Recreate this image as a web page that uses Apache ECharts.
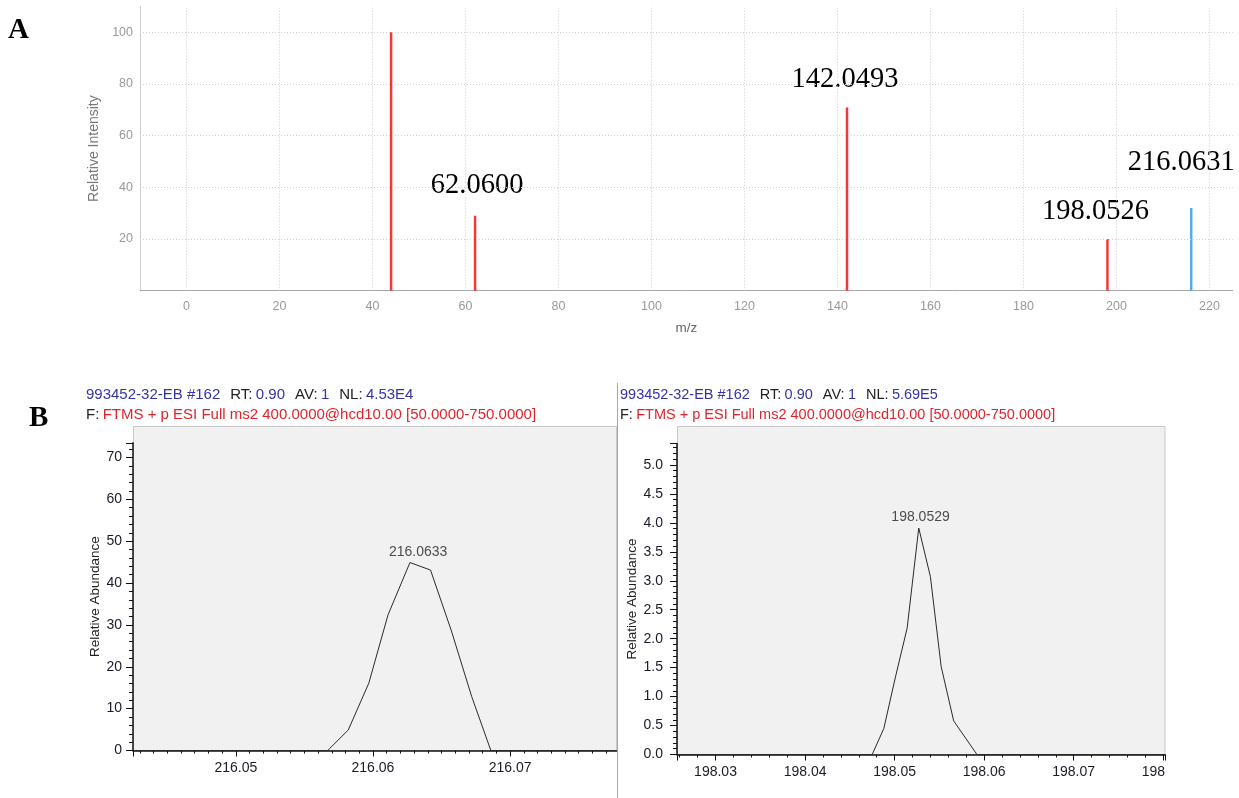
<!DOCTYPE html>
<html>
<head>
<meta charset="utf-8">
<title>MS/MS spectrum and profile peaks</title>
<script src="https://cdn.jsdelivr.net/npm/echarts@6/dist/echarts.min.js"></script>
<style>
  html, body { margin: 0; padding: 0; background: #fff; }
  #main { width: 1239px; height: 798px; }
</style>
</head>
<body>
<div id="main"></div>
<script>
// ---- Panel A: centroided fragment list ----
const fragMz        = [44.0, 62.06, 142.0493, 198.0526, 216.0631];
const fragIntensity = [100, 29, 71, 20, 32];
const fragLabels    = ['', '62.0600', '142.0493', '198.0526', '216.0631'];
const fragIsPrecursor = [false, false, false, false, true];
const specTicksX = [0, 20, 40, 60, 80, 100, 120, 140, 160, 180, 200, 220];
const specTicksY = [20, 40, 60, 80, 100];

// ---- Panel B, left: profile of the 216.06 peak ----
const prof216Mz = [216.0425, 216.0567, 216.0582, 216.0597, 216.0611, 216.0627, 216.0642, 216.0657, 216.0672, 216.0686, 216.0778];
const prof216Ab = [0, 0, 4.9, 16.1, 32.4, 44.9, 43.1, 28.8, 12.9, 0, 0];
const prof216Label = '216.0633';

// ---- Panel B, right: profile of the 198.05 peak ----
const prof198Mz = [198.0257, 198.0475, 198.0488, 198.0501, 198.0514, 198.0527, 198.0540, 198.0552, 198.0566, 198.0592, 198.0802];
const prof198Ab = [0, 0, 0.45, 1.34, 2.18, 3.91, 3.07, 1.52, 0.58, 0, 0];
const prof198Label = '198.0529';

// ---- scan header text ----
const scanId = '993452-32-EB #162';
const scanRT = '0.90';
const scanAV = '1';
const nlLeft = '4.53E4';
const nlRight = '5.69E5';
const scanFilter = 'FTMS + p ESI Full ms2 400.0000@hcd10.00 [50.0000-750.0000]';

// label nudges for the fragment annotations (px)
const fragLabelShift = [[0, 0], [2, -2], [-2, 0], [-12, 0], [-10, -18]];

const sans = '"Liberation Sans", Arial, sans-serif';
const serif = '"Liberation Serif", "Times New Roman", serif';

const chart = echarts.init(document.getElementById('main'), null, { renderer: 'canvas', width: 1239, height: 798 });

function pairs(xs, ys) { return xs.map((x, i) => [x, ys[i]]); }

function xcalAxisX(gridIndex, min, max, minorSplit) {
  return {
    type: 'value', gridIndex, min, max, minInterval: 0.01, maxInterval: 0.01, splitNumber: 4,
    axisLine: { show: true, onZero: false, lineStyle: { color: '#111', width: 1.5 } },
    axisTick: { show: true, inside: false, length: 6, lineStyle: { color: '#111', width: 1 } },
    minorTick: { show: true, splitNumber: minorSplit, length: 3, lineStyle: { color: '#111', width: 1 } },
    axisLabel: { color: '#1a1a2a', fontSize: 14, fontFamily: sans, margin: 11,
      showMinLabel: false, showMaxLabel: false, formatter: v => v.toFixed(2) },
    splitLine: { show: false }, minorSplitLine: { show: false }
  };
}

function xcalAxisY(gridIndex, max, interval, minorSplit, decimals, margin, nameGap) {
  return {
    type: 'value', gridIndex, min: 0, max, interval,
    axisLine: { show: true, onZero: false, lineStyle: { color: '#111', width: 1.5 } },
    axisTick: { show: true, inside: false, length: 7, lineStyle: { color: '#111', width: 1 } },
    minorTick: { show: true, splitNumber: minorSplit, length: 4, lineStyle: { color: '#111', width: 1 } },
    axisLabel: { color: '#1a1a2a', fontSize: 14, fontFamily: sans, margin,
      showMaxLabel: false, formatter: v => v.toFixed(decimals) },
    splitLine: { show: false }, minorSplitLine: { show: false },
    name: 'Relative Abundance', nameLocation: 'middle', nameGap, nameRotate: 90,
    nameTextStyle: { color: '#222', fontSize: 13.5, fontFamily: sans }
  };
}

function headerLines(x, nl, size) {
  const f = size + 'px ' + sans;
  return [
    { type: 'text', x, y: 395, z: 10, style: {
      text: `{b|${scanId}}   {k|RT:} {b|${scanRT}}   {k|AV:} {b|${scanAV}}   {k|NL:} {b|${nl}}`,
      rich: { b: { fill: '#3434a4', font: f }, k: { fill: '#222', font: f } },
      verticalAlign: 'middle' } },
    { type: 'text', x, y: 415, z: 10, style: {
      text: `{k|F:} {r|${scanFilter}}`,
      rich: { r: { fill: '#e0242c', font: f }, k: { fill: '#222', font: f } },
      verticalAlign: 'middle' } }
  ];
}

const dotted = { color: '#cfcfcf', type: [1, 2], width: 1 };

const option = {
  animation: false,
  backgroundColor: '#fff',
  textStyle: { fontFamily: sans },
  grid: [
    { left: 140, top: 6.5, width: 1092.75, height: 284.2, outerBoundsMode: 'none', containLabel: false },
    { left: 133, top: 442.8, width: 484, height: 307.7, outerBoundsMode: 'none', containLabel: false },
    { left: 677, top: 443.5, width: 488, height: 311, outerBoundsMode: 'none', containLabel: false }
  ],
  xAxis: [
    {
      type: 'value', gridIndex: 0, min: -10, max: 225, minInterval: 20, maxInterval: 20, splitNumber: 12,
      axisLine: { show: true, onZero: false, lineStyle: { color: '#a8a8a8' } },
      axisTick: { show: false },
      axisLabel: { color: '#999', fontSize: 12.5, fontFamily: sans, margin: 9, showMinLabel: false, showMaxLabel: false },
      splitLine: { show: false },
      name: 'm/z', nameLocation: 'middle', nameGap: 31,
      nameTextStyle: { color: '#666', fontSize: 13.5, fontFamily: sans }
    },
    xcalAxisX(1, 216.0425, 216.0778, 10),
    xcalAxisX(2, 198.0257, 198.0802, 5)
  ],
  yAxis: [
    {
      type: 'value', gridIndex: 0, min: 0, max: 110, interval: 20,
      axisLine: { show: true, onZero: false, lineStyle: { color: '#cfcfcf' } },
      axisTick: { show: false },
      axisLabel: { color: '#999', fontSize: 12.5, fontFamily: sans, margin: 7, showMinLabel: false, showMaxLabel: false },
      splitLine: { show: false },
      name: 'Relative Intensity', nameLocation: 'middle', nameGap: 28,
      nameTextStyle: { color: '#777', fontSize: 14, fontFamily: sans }
    },
    xcalAxisY(1, 73.5, 10, 5, 0, 11, 30),
    xcalAxisY(2, 5.37, 0.5, 5, 1, 14, 38)
  ],
  series: [
    {
      // dotted grid of the spectrum view
      type: 'line', xAxisIndex: 0, yAxisIndex: 0, data: [], z: 1, silent: true,
      markLine: {
        silent: true, symbol: ['none', 'none'], label: { show: false }, animation: false,
        lineStyle: dotted,
        emphasis: { disabled: true },
        data: [...specTicksX.map(v => ({ xAxis: v })), ...specTicksY.map(v => ({ yAxis: v }))]
      }
    },
    {
      type: 'bar', xAxisIndex: 0, yAxisIndex: 0, barWidth: 2.5, z: 3,
      data: fragMz.map((m, i) => ({
        value: [m, fragIntensity[i]],
        itemStyle: { color: fragIsPrecursor[i] ? '#52adf0' : '#ef3a3a' },
        label: {
          show: fragLabels[i] !== '',
          position: 'top', distance: 0,
          offset: fragLabelShift[i],
          formatter: fragLabels[i],
          fontFamily: serif, fontSize: 28.5, color: '#000',
          lineHeight: 32, padding: [12, 22], backgroundColor: '#fff'
        }
      }))
    },
    {
      type: 'line', xAxisIndex: 1, yAxisIndex: 1, data: pairs(prof216Mz, prof216Ab),
      symbol: 'none', lineStyle: { color: '#2a2a2a', width: 1 }, z: 4
    },
    {
      type: 'scatter', xAxisIndex: 1, yAxisIndex: 1, symbolSize: 0, silent: true, z: 5,
      data: [[Number(prof216Label), Math.max(...prof216Ab)]],
      label: { show: true, position: 'top', distance: 3, formatter: prof216Label,
        color: '#222', fontSize: 14, fontFamily: sans }
    },
    {
      type: 'line', xAxisIndex: 2, yAxisIndex: 2, data: pairs(prof198Mz, prof198Ab),
      symbol: 'none', lineStyle: { color: '#2a2a2a', width: 1 }, z: 4
    },
    {
      type: 'scatter', xAxisIndex: 2, yAxisIndex: 2, symbolSize: 0, silent: true, z: 5,
      data: [[Number(prof198Label), Math.max(...prof198Ab)]],
      label: { show: true, position: 'top', distance: 4, formatter: prof198Label,
        color: '#222', fontSize: 14, fontFamily: sans }
    }
  ],
  graphic: [
    // panel letters
    { type: 'text', x: 8, y: 31, style: { text: 'A', font: 'bold 29px ' + serif, fill: '#000', verticalAlign: 'middle' } },
    { type: 'text', x: 29, y: 419, style: { text: 'B', font: 'bold 29px ' + serif, fill: '#000', verticalAlign: 'middle' } },
    // plot frames of the two profile views
    { type: 'rect', z: -10, shape: { x: 133.5, y: 426.5, width: 483, height: 324 },
      style: { fill: '#f1f1f1', stroke: '#c9c9c9', lineWidth: 1 } },
    { type: 'rect', z: -10, shape: { x: 677.5, y: 426.5, width: 487.5, height: 328 },
      style: { fill: '#f1f1f1', stroke: '#c9c9c9', lineWidth: 1 } },
    // divider between the two views
    { type: 'line', z: 20, shape: { x1: 617.5, y1: 383, x2: 617.5, y2: 798 },
      style: { stroke: '#a8a8a8', lineWidth: 1 } },
    // right view is cut off at its right edge
    { type: 'rect', z: 100, shape: { x: 1166, y: 745, width: 73, height: 53 }, style: { fill: '#fff' } },
    ...headerLines(86, nlLeft, 15),
    ...headerLines(620, nlRight, 14.5)
  ]
};

chart.setOption(option);
</script>
</body>
</html>
